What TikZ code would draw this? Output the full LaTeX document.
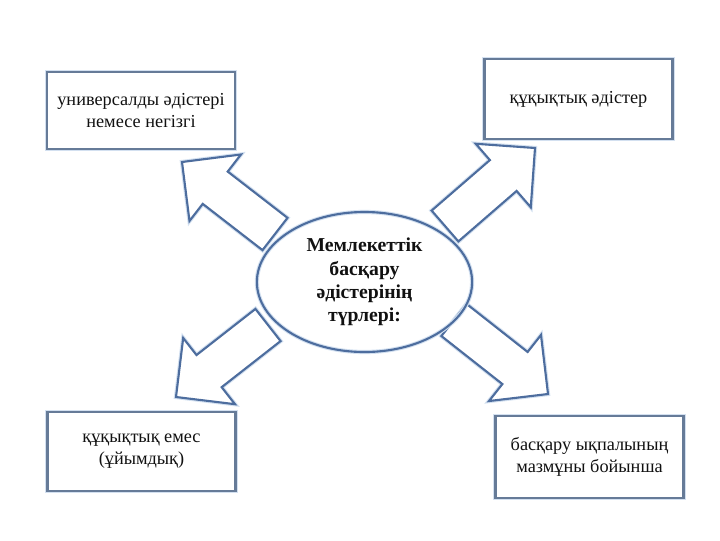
\documentclass[tikz,border=0pt]{standalone}
\usepackage{fontspec}
\setmainfont{Liberation Serif}
\usepackage{tikz}
\usetikzlibrary{calc,shapes.geometric}
\definecolor{ink}{HTML}{111111}
\definecolor{edge}{HTML}{4D6D9E}
\definecolor{boxedge}{HTML}{667B98}
\definecolor{halo}{HTML}{D3E0F0}
\tikzset{
  methodbox/.style={preaction={draw=halo,line width=3pt},draw=boxedge,line width=1.5pt,fill=white,minimum width=4.7cm,inner sep=0pt,align=center,text=ink,font=\fontsize{13}{15.5}\selectfont},
  hub/.style={ellipse,preaction={draw=halo,line width=3pt},draw=edge,line width=1.5pt,minimum width=5.38cm,minimum height=3.5cm,inner sep=0pt,align=center,text=ink,font=\fontsize{14}{16.5}\selectfont\bfseries},
  blockarrow/.style={preaction={draw=halo,line width=3pt},draw=edge,line width=1.5pt,fill=white,line join=miter},
}

\begin{document}
\begin{tikzpicture}[x=0.025cm,y=-0.025cm]
  \useasboundingbox (0,0) rectangle (720,540);

  \coordinate (univ-s) at (275,234);     \coordinate (univ-t) at (182,162);
  \coordinate (legal-s) at (445,226);    \coordinate (legal-t) at (535,148);
  \coordinate (nonlegal-s) at (268,325); \coordinate (nonlegal-t) at (176,397);
  \coordinate (impact-s) at (454,320);   \coordinate (impact-t) at (548,394);

  \foreach \a in {univ,legal,nonlegal,impact}{
    \coordinate (\a-h) at ($(\a-t)!1.05cm!(\a-s)$);
    \draw[blockarrow] ($(\a-s)!0.51cm!90:(\a-t)$) -- ($(\a-h)!0.51cm!90:(\a-t)$)
      -- ($(\a-h)!1.05cm!90:(\a-t)$) -- (\a-t) -- ($(\a-h)!1.05cm!-90:(\a-t)$)
      -- ($(\a-h)!0.51cm!-90:(\a-t)$) -- ($(\a-s)!0.51cm!-90:(\a-t)$) -- cycle;
  }

  \node[hub] (types) at (364.5,282) {Мемлекеттік\\басқару\\әдістерінің\\түрлері:};

  \node[methodbox,minimum height=1.93cm] (univ) at (141,110.5) {универсалды әдістері\\немесе негізгі};
  \node[methodbox,minimum height=2.0cm] (legal) at (578.5,99) {құқықтық әдістер};
  \node[methodbox,minimum height=1.98cm] (nonlegal) at (141.5,451.5) {құқықтық емес\\(ұйымдық)};
  \node[methodbox,minimum height=2.03cm] (impact) at (589.5,457) {басқару ықпалының\\мазмұны бойынша};
\end{tikzpicture}
\end{document}
